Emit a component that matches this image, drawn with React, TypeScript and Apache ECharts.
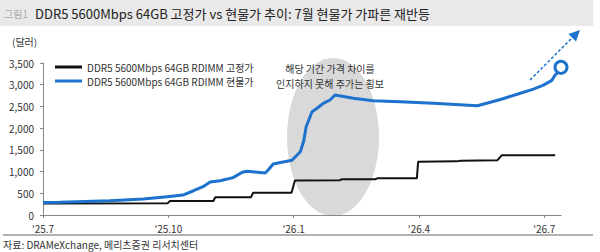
import React, { useEffect, useRef } from "react";
import * as echarts from "echarts";

const FONT = "'Noto Sans CJK KR', 'Noto Sans', sans-serif";
const BLUE = "#1c72cc";

const titleText = "DDR5 5600Mbps 64GB 고정가 vs 현물가 추이: 7월 현물가 가파른 재반등";
const figLabel = "그림1";
const unitLabel = "(달러)";
const sourceText = "자료: DRAMeXchange, 메리츠증권 리서치센터";
const annotationLines = ["해당 기간 가격 차이를", "인지하지 못해 주가는 횡보"];

const seriesNames = [
  "DDR5 5600Mbps 64GB RDIMM 고정가",
  "DDR5 5600Mbps 64GB RDIMM 현물가",
];

// x = months since 2025-07
const xTickLabels: Record<number, string> = { 0: "'25.7", 3: "'25.10", 6: "'26.1", 9: "'26.4", 12: "'26.7" };

const fixedMonths = [0, 2.98, 3.04, 4.08, 4.12, 4.98, 5.03, 5.95, 6.03, 7.1, 7.15, 7.95, 8.0, 8.95, 8.98, 9.9, 10.0, 10.88, 10.98, 12.26];
const fixedPrice = [262, 268, 322, 322, 407, 410, 513, 513, 795, 800, 822, 822, 845, 845, 1228, 1235, 1251, 1262, 1375, 1375];

const spotMonths = [0, 0.4, 1.6, 2.4, 2.97, 3.35, 3.59, 3.83, 4.0, 4.24, 4.55, 4.77, 4.89, 5.32, 5.39, 5.51, 5.96, 6.16, 6.24, 6.3, 6.44, 6.56, 6.71, 6.87, 6.99, 7.43, 7.9, 8.55, 9.34, 10.4, 10.95, 11.35, 11.74, 11.98, 12.18, 12.26, 12.32, 12.4];
const spotPrice = [285, 295, 330, 368, 421, 460, 553, 652, 760, 790, 860, 983, 1006, 967, 1036, 1174, 1260, 1458, 1700, 2033, 2379, 2457, 2572, 2648, 2763, 2687, 2632, 2609, 2572, 2517, 2660, 2780, 2900, 2990, 3100, 3224, 3280, 3400];

export default function App() {
  const ref = useRef<HTMLDivElement>(null);
  useEffect(() => {
    if (!ref.current) return;
    const chart = echarts.init(ref.current, undefined, { renderer: "svg" });
    const fixedData = fixedMonths.map((m, i) => [m, fixedPrice[i]]);
    const spotData: any[] = spotMonths.map((m, i) => [m, spotPrice[i]]);
    const last = spotData.length - 1;
    spotData[last] = {
      value: spotData[last],
      symbol: "circle",
      symbolSize: 12,
      itemStyle: { color: "#fff", borderColor: BLUE, borderWidth: 3 },
    };
    chart.setOption({
      animation: false,
      textStyle: { fontFamily: FONT },
      grid: { left: 43, right: 39, top: 63, bottom: 37 },
      legend: {
        orient: "vertical",
        left: 50,
        top: 57,
        itemGap: 4,
        itemWidth: 27,
        itemHeight: 3,
        icon: "rect",
        textStyle: { fontSize: 10, color: "#333", fontFamily: FONT },
        data: seriesNames,
      },
      xAxis: {
        type: "value",
        min: 0,
        max: 12.4,
        interval: 3,
        splitLine: { show: false },
        axisLine: { lineStyle: { color: "#888" } },
        axisTick: { show: true, length: 3, lineStyle: { color: "#888" } },
        axisLabel: {
          fontSize: 10,
          color: "#333",
          margin: 8,
          showMaxLabel: false,
          formatter: (v: number) => xTickLabels[Math.round(v * 100) / 100] ?? "",
        },
      },
      yAxis: {
        type: "value",
        min: 0,
        max: 3500,
        interval: 500,
        splitLine: { show: false },
        axisLine: { show: true, lineStyle: { color: "#888" } },
        axisTick: { show: true, length: 3, lineStyle: { color: "#888" } },
        axisLabel: {
          fontSize: 10,
          color: "#333",
          margin: 9,
          formatter: (v: number) => v.toLocaleString("en-US"),
        },
      },
      series: [
        {
          name: seriesNames[0],
          type: "line",
          data: fixedData,
          symbol: "none",
          color: "#111",
          lineStyle: { width: 2, color: "#111" },
          z: 3,
        },
        {
          name: seriesNames[1],
          type: "line",
          data: spotData,
          symbol: "none",
          showSymbol: true,
          color: BLUE,
          clip: false,
          lineStyle: { width: 3, color: BLUE },
          z: 4,
        },
      ],
      graphic: [
        { type: "rect", shape: { x: 0, y: 0, width: 593, height: 26 }, style: { fill: "#e9e9e9" }, z: -10 },
        { type: "text", x: 4, y: 13, style: { text: figLabel, fontSize: 10, fill: "#aaa", fontFamily: FONT, verticalAlign: "middle" } },
        { type: "text", x: 35, y: 13, style: { text: titleText, fontSize: 13, fill: "#222", fontFamily: FONT, verticalAlign: "middle" } },
        { type: "text", x: 12, y: 41, style: { text: unitLabel, fontSize: 10, fill: "#333", fontFamily: FONT, verticalAlign: "middle" } },
        { type: "ellipse", shape: { cx: 333, cy: 137, rx: 46, ry: 79 }, style: { fill: "#d9d9d9" }, z: -5 },
        { type: "text", x: 330, y: 68, style: { text: annotationLines[0], fontSize: 10, fill: "#333", fontFamily: FONT, align: "center", verticalAlign: "middle" }, z: 10 },
        { type: "text", x: 330, y: 83, style: { text: annotationLines[1], fontSize: 10, fill: "#333", fontFamily: FONT, align: "center", verticalAlign: "middle" }, z: 10 },
        { type: "line", shape: { x1: 530, y1: 80, x2: 573, y2: 37 }, style: { stroke: BLUE, lineWidth: 1.5, lineDash: [3, 2] }, z: 10 },
        { type: "polygon", shape: { points: [[580, 30], [576, 41.5], [568.5, 34]] }, style: { fill: BLUE }, z: 10 },
        { type: "line", shape: { x1: 3, y1: 235, x2: 593, y2: 235 }, style: { stroke: "#999", lineWidth: 1.5 } },
        { type: "text", x: 3, y: 244, style: { text: sourceText, fontSize: 10, fill: "#333", fontFamily: FONT, verticalAlign: "middle" } },
      ],
    });
    return () => chart.dispose();
  }, []);
  return <div ref={ref} style={{ width: 600, height: 252, position: "absolute", left: 0, top: 0 }} />;
}
